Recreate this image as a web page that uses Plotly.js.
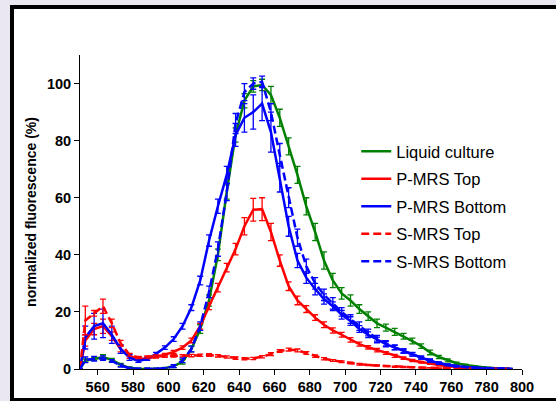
<!DOCTYPE html>
<html>
<head>
<meta charset="utf-8">
<script src="https://cdn.plot.ly/plotly-3.0.1.min.js"></script>
<style>
  html, body { margin: 0; padding: 0; background: #ebe7f0; width: 556px; height: 401px; overflow: hidden; }
  #frame { position: absolute; left: 10px; top: 5px; width: 600px; height: 397px; box-sizing: border-box;
           border: 4px solid #000; background: #fff; }
  #chart { position: absolute; left: 0; top: 0; width: 556px; height: 401px; }
</style>
</head>
<body>
<div id="frame"></div>
<div id="chart"></div>
<script>
// Wavelength (nm)
const wavelengths = [550,553,558,563,568,573,578,583,588,593,598,603,608,613,618,623,628,633,638,643,648,653,658,663,668,673,678,683,688,693,698,703,708,713,718,723,728,733,738,743,748,753,758,763,768,773,778,783,788,793];

const seriesNames = ["Liquid culture", "P-MRS Top", "P-MRS Bottom", "S-MRS Top", "S-MRS Bottom"];

// normalized fluorescence (%)
const liquidCulture = [0,3,3.5,4.2,3.2,1.5,0.4,0,0,0,0.3,1,2.5,7,14,24,40,62,82,94,99,99.5,96,88,78,68,57,48,38,31,26.5,24,21,18.5,16,14.5,13,11.5,9.8,8,5.8,4.2,3,2,1.4,0.9,0.6,0.35,0.2,0.1];
const pMrsTop      = [0,10,14,15,11.5,7,4.5,3.5,3.7,4.3,5,6,7.5,10,15,22,28.5,35.5,42,50,55.8,56,48,38,29,24,21,18,15.5,13.5,12,10.2,8.7,7.6,6.6,5.6,4.6,3.8,3,2.4,1.9,1.4,1,0.7,0.5,0.3,0.2,0.1,0.1,0];
const pMrsBottom   = [0,11,15,16,12,7,4,2.8,3.5,5.3,7.5,10.5,15,21.5,31,45,57,68,82,88,90,93,83,67,50,38,32,28,24.5,22,19,16.8,14,12,10.2,8.7,7.5,6.3,5.2,4,2.9,2,1.4,0.9,0.6,0.4,0.25,0.15,0.1,0.1];
const sMrsTop      = [0,17,19.5,22,16,9,5,4,4.2,4.5,4.5,4.6,4.6,4.7,4.8,4.9,4.6,4.2,3.8,3.6,3.7,4.3,5.2,6.3,6.8,6.5,5.6,4.5,3.6,3,2.5,2.1,1.7,1.4,1.2,1,0.8,0.7,0.6,0.5,0.4,0.3,0.25,0.2,0.15,0.1,0.1,0.05,0.05,0];
const sMrsBottom   = [0,3.2,3.6,3.8,2.8,1.2,0.3,0,0,0,0.2,1,3,7,15,27,42,62,86,97,100,100.6,90,75,60,46,36,30,26,23,20,17.5,15,12.8,10.8,9,7.6,6.3,5.1,4,3,2.1,1.5,1,0.7,0.4,0.3,0.2,0.1,0.1];

// error bars (SD)
const liquidCultureErr = [0,0.5,0.5,0.8,0.5,0.5,0.3,0.3,0.3,0.3,0.3,0.5,0.8,1,1.5,2,2,2.5,2.5,2.5,2,2,3,3,3,3,3,3,3,2.5,2,2,1.5,1.5,1.5,1.2,1.2,1,1,0.8,0.8,0.6,0.5,0.4,0.3,0.3,0.2,0.2,0.1,0.1];
const pMrsTopErr      = [0,2,2,2.5,1.5,1,0.8,0.5,0.5,0.5,0.5,0.5,0.6,0.8,1,1.2,1.5,1.5,2,3,4,4,3,2,1.5,1.5,1.2,1,1,0.9,0.8,0.8,0.7,0.6,0.6,0.5,0.5,0.4,0.4,0.3,0.3,0.3,0.2,0.2,0.1,0.1,0.1,0.1,0.1,0];
const pMrsBottomErr   = [0,4,4.5,5,3,1.5,1,0.5,0.5,0.5,0.6,0.8,1,1,1.5,2,2.5,3,4,5,6,6,7,5,3.5,2.5,2,2,1.8,1.5,1.5,1.5,1.2,1,1,0.9,0.8,0.7,0.6,0.5,0.5,0.4,0.3,0.3,0.2,0.2,0.1,0.1,0.1,0.1];
const sMrsTopErr      = [0,5,1,2.5,1.5,1,0.5,0.4,0.4,0.4,0.4,0.4,0.4,0.4,0.4,0.5,0.4,0.4,0.4,0.4,0.4,0.4,0.5,0.5,0.5,0.5,0.5,0.4,0.4,0.3,0.3,0.3,0.3,0.2,0.2,0.2,0.2,0.2,0.1,0.1,0.1,0.1,0.1,0.1,0.1,0.1,0.1,0,0,0];
const sMrsBottomErr   = [0,1,0.8,0.8,0.5,0.5,0.3,0.3,0.3,0.3,0.3,0.5,0.8,1,1.5,2,2.5,3,3.5,3,2,2,3,4,3.5,3,2.5,2,2,2,1.5,1.5,1.5,1.2,1,0.9,0.8,0.7,0.6,0.5,0.5,0.4,0.3,0.3,0.2,0.2,0.1,0.1,0.1,0.1];

const GREEN = "#008000", RED = "#ff0000", BLUE = "#0000ff";

function trace(name, y, err, color, dash) {
  return {
    type: "scatter", mode: "lines", name: name, x: wavelengths, y: y,
    legendgroup: name,
    line: { color: color, width: 2.5, dash: dash, shape: "linear" },
    error_y: { type: "data", array: err, visible: true, color: color, thickness: 1.3, width: 3 },
    cliponaxis: true
  };
}

const data = [
  trace(seriesNames[0], liquidCulture, liquidCultureErr, GREEN, "solid"),
  trace(seriesNames[1], pMrsTop, pMrsTopErr, RED, "solid"),
  trace(seriesNames[2], pMrsBottom, pMrsBottomErr, BLUE, "solid"),
  trace(seriesNames[3], sMrsTop, sMrsTopErr, RED, "8px,4px"),
  trace(seriesNames[4], sMrsBottom, sMrsBottomErr, BLUE, "8px,4px")
];

const axisFont = { family: "Liberation Sans, Arial, sans-serif", size: 14.5, color: "#000", weight: "bold" };
const titleFont = { family: "Liberation Sans, Arial, sans-serif", size: 14, color: "#000", weight: "bold" };

const layout = {
  width: 556, height: 401,
  margin: { l: 80, r: 34, t: 55, b: 32, pad: 0 },
  paper_bgcolor: "rgba(0,0,0,0)",
  plot_bgcolor: "rgba(0,0,0,0)",
  showlegend: true,
  legend: {
    x: 0.625, xanchor: "left", y: 0.748, yanchor: "top",
    bgcolor: "rgba(0,0,0,0)", borderwidth: 0,
    font: { family: "Liberation Sans, Arial, sans-serif", size: 16.5, color: "#000" },
    tracegroupgap: 3, itemwidth: 30
  },
  xaxis: {
    range: [550, 800], tick0: 560, dtick: 20, tickmode: "linear",
    showgrid: false, zeroline: false, showline: true, linecolor: "#000", linewidth: 1,
    ticks: "outside", ticklen: 5, tickwidth: 1, tickcolor: "#000",
    tickfont: axisFont
  },
  yaxis: {
    range: [0, 110], tick0: 0, dtick: 20, tickmode: "linear",
    showgrid: false, zeroline: false, showline: true, linecolor: "#000", linewidth: 1,
    ticks: "outside", ticklen: 5, tickwidth: 1, tickcolor: "#000",
    tickfont: axisFont,
    title: { text: "normalized fluorescence (%)", font: titleFont, standoff: 6 }
  }
};

Plotly.newPlot("chart", data, layout, { displayModeBar: false, staticPlot: true });
</script>
</body>
</html>
